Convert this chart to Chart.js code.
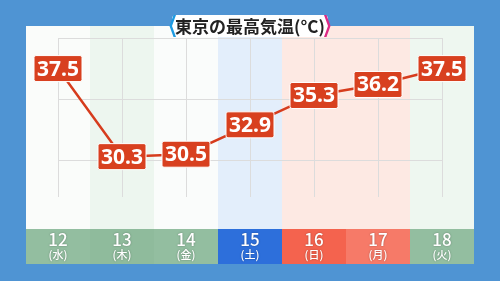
<!DOCTYPE html>
<html>
<head>
<meta charset="utf-8">
<script src="https://cdn.jsdelivr.net/npm/chart.js@4"></script>
<style>
  html, body { margin: 0; padding: 0; background: #4f94d3; }
  #wrap { width: 500px; height: 281px; }
</style>
</head>
<body>
<div id="wrap"><canvas id="grafico" width="500" height="281"></canvas></div>
<script>
'use strict';

// Datos del grafico
const DIAS = ['12', '13', '14', '15', '16', '17', '18'];
const SEMANA = ['(水)', '(木)', '(金)', '(土)', '(日)', '(月)', '(火)'];
const TEMPERATURAS = [37.5, 30.3, 30.5, 32.9, 35.3, 36.2, 37.5];
const MARCAS_Y = [30, 35, 40];
const TITULO = '東京の最高気温(°C)';

// Colores por dia (fondo de columna y franja inferior)
const TINTE_COLUMNA = ['#fafcfa', '#edf6ef', '#fafcfb', '#e3eefb', '#fde9e3', '#fde9e3', '#eef7f0'];
const COLOR_FRANJA = ['#93bea0', '#8fbb9c', '#93bea0', '#2d6fdb', '#f4634e', '#f67a68', '#93bea0'];

const PANEL = { izq: 26, der: 474, arriba: 26, franja: 229, abajo: 264 };

function rectRedondo(ctx, x, y, w, h, r) {
    ctx.beginPath();
    ctx.moveTo(x + r, y);
    ctx.lineTo(x + w - r, y);
    ctx.quadraticCurveTo(x + w, y, x + w, y + r);
    ctx.lineTo(x + w, y + h - r);
    ctx.quadraticCurveTo(x + w, y + h, x + w - r, y + h);
    ctx.lineTo(x + r, y + h);
    ctx.quadraticCurveTo(x, y + h, x, y + h - r);
    ctx.lineTo(x, y + r);
    ctx.quadraticCurveTo(x, y, x + r, y);
    ctx.closePath();
}

// Fondo, panel, columnas, franja de dias y titulo
const pluginFondo = {
    id: 'fondo',
    beforeDraw(chart) {
        const ctx = chart.ctx;
        const x = chart.scales.x;
        const paso = x.getPixelForValue(1) - x.getPixelForValue(0);
        ctx.save();
        ctx.fillStyle = '#4f94d3';
        ctx.fillRect(0, 0, chart.width, chart.height);

        ctx.fillStyle = '#ffffff';
        rectRedondo(ctx, PANEL.izq, PANEL.arriba, PANEL.der - PANEL.izq, PANEL.abajo - PANEL.arriba, 3);
        ctx.fill();

        DIAS.forEach((dia, i) => {
            const cx = x.getPixelForValue(i);
            ctx.fillStyle = TINTE_COLUMNA[i];
            ctx.fillRect(cx - paso / 2, PANEL.arriba, paso, PANEL.franja - PANEL.arriba);
            ctx.fillStyle = COLOR_FRANJA[i];
            ctx.fillRect(cx - paso / 2, PANEL.franja, paso, PANEL.abajo - PANEL.franja);

            ctx.textAlign = 'center';
            ctx.textBaseline = 'middle';
            ctx.shadowColor = 'rgba(0,0,0,0.35)';
            ctx.shadowBlur = 2;
            ctx.fillStyle = '#ffffff';
            ctx.font = '500 17px "Noto Sans CJK JP", "Noto Sans", sans-serif';
            ctx.fillText(dia, cx, 240);
            ctx.font = '500 11px "Noto Sans CJK JP", sans-serif';
            ctx.fillText(SEMANA[i], cx, 255);
            ctx.shadowBlur = 0;
            ctx.shadowColor = 'transparent';
        });

        // Titulo
        const tx = 172, ty = 15, tw = 156, th = 22;
        ctx.fillStyle = '#ffffff';
        rectRedondo(ctx, tx, ty, tw, th, 4);
        ctx.fill();
        ctx.fillStyle = '#1d9be2';
        ctx.beginPath();
        ctx.moveTo(tx + 4, ty);
        ctx.lineTo(tx, ty + th / 2);
        ctx.lineTo(tx + 4, ty + th);
        ctx.lineTo(tx + 1.5, ty + th);
        ctx.lineTo(tx - 2.5, ty + th / 2);
        ctx.lineTo(tx + 1.5, ty);
        ctx.closePath();
        ctx.fill();
        ctx.fillStyle = '#dd2a85';
        ctx.beginPath();
        ctx.moveTo(tx + tw - 4, ty);
        ctx.lineTo(tx + tw, ty + th / 2);
        ctx.lineTo(tx + tw - 4, ty + th);
        ctx.lineTo(tx + tw - 1.5, ty + th);
        ctx.lineTo(tx + tw + 2.5, ty + th / 2);
        ctx.lineTo(tx + tw - 1.5, ty);
        ctx.closePath();
        ctx.fill();
        ctx.fillStyle = '#222222';
        ctx.font = 'bold 17px "Noto Sans CJK JP", sans-serif';
        ctx.textAlign = 'center';
        ctx.textBaseline = 'middle';
        ctx.fillText(TITULO, 250, 26.5);
        ctx.restore();
    }
};

// Etiquetas de valor en cajas rojas
const pluginEtiquetas = {
    id: 'etiquetas',
    afterDatasetsDraw(chart) {
        const ctx = chart.ctx;
        const meta = chart.getDatasetMeta(0);
        ctx.save();
        ctx.font = 'bold 21px "Noto Sans", "DejaVu Sans", sans-serif';
        ctx.textAlign = 'center';
        ctx.textBaseline = 'middle';
        meta.data.forEach((punto, i) => {
            const texto = TEMPERATURAS[i].toFixed(1);
            const w = 48, h = 26;
            ctx.fillStyle = '#d8401f';
            ctx.strokeStyle = '#ffffff';
            ctx.lineWidth = 1;
            rectRedondo(ctx, punto.x - w / 2, punto.y - h / 2, w, h, 2);
            ctx.fill();
            ctx.stroke();
            ctx.fillStyle = '#ffffff';
            ctx.fillText(texto, punto.x, punto.y + 1);
        });
        ctx.restore();
    }
};

new Chart(document.getElementById('grafico'), {
    type: 'line',
    data: {
        labels: DIAS,
        datasets: [{
            data: TEMPERATURAS,
            borderColor: '#d63c1d',
            borderWidth: 2.5,
            pointRadius: 0,
            tension: 0
        }]
    },
    options: {
        responsive: false,
        animation: false,
        devicePixelRatio: 1,
        layout: { padding: { left: 58, right: 58, top: 38, bottom: 84 } },
        plugins: {
            legend: { display: false },
            tooltip: { enabled: false }
        },
        scales: {
            x: {
                offset: false,
                ticks: { display: false },
                border: { display: false },
                grid: { color: '#dcdcdc', lineWidth: 1, drawTicks: false }
            },
            y: {
                min: 27,
                max: 40,
                afterBuildTicks(axis) {
                    axis.ticks = MARCAS_Y.map(v => ({ value: v }));
                },
                ticks: { display: false },
                border: { display: false },
                grid: { color: '#dcdcdc', lineWidth: 1, drawTicks: false }
            }
        }
    },
    plugins: [pluginFondo, pluginEtiquetas]
});
</script>
</body>
</html>
